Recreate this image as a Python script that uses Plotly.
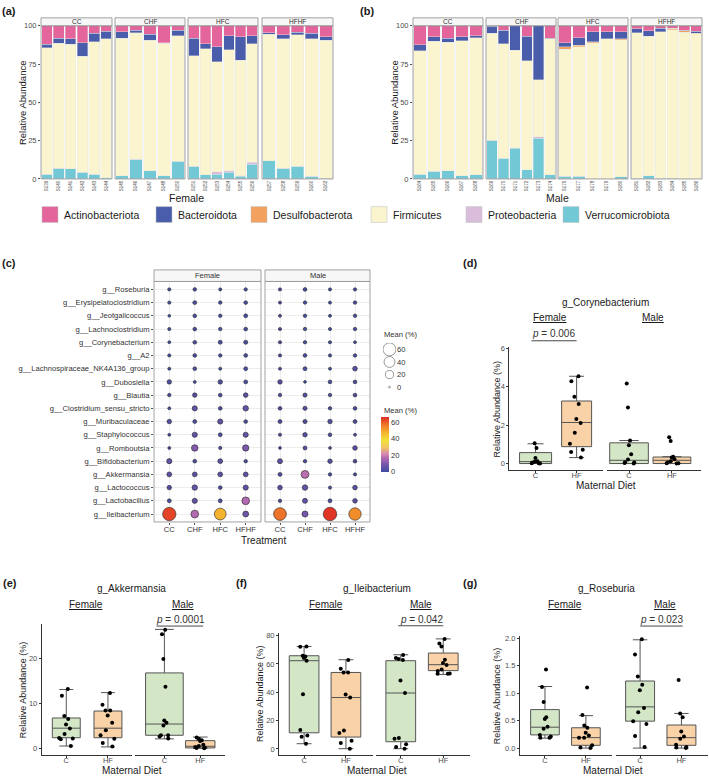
import plotly.graph_objects as go

W, H = 709, 781
FONT = "Liberation Sans, Arial, Helvetica, sans-serif"
TICK = "#4D4D4D"
INK = "#1A1A1A"

# ---------- (a) / (b): phylum relative abundance per sample ----------
groups = ["CC", "CHF", "HFC", "HFHF"]
phyla = ["Actinobacteriota", "Bacteroidota", "Desulfobacterota",
         "Firmicutes", "Proteobacteria", "Verrucomicrobiota"]
phylum_colors = ["#E4659C", "#4A5DAA", "#F2A25E", "#FAF5CE", "#D9BDDB", "#72C9D5"]

fem_ids = ["S139", "S140", "S141", "S142", "S143", "S144",
           "S145", "S146", "S147", "S148", "S150",
           "S151", "S152", "S153", "S154", "S155", "S156",
           "S157", "S158", "S159", "S160", "S162"]
fem_grp = ["CC"] * 6 + ["CHF"] * 5 + ["HFC"] * 6 + ["HFHF"] * 5
fem_actino = [12.0, 8.0, 8.5, 11.0, 5.0, 3.5, 4.0, 3.0, 5.5, 11.0, 3.0,
              8.0, 11.6, 13.8, 6.5, 7.3, 6.5, 4.7, 5.8, 4.1, 5.0, 7.3]
fem_bactero = [2.5, 3.5, 3.5, 9.0, 5.5, 5.0, 4.0, 1.5, 4.0, 0.5, 3.5,
               11.6, 3.5, 9.7, 9.3, 15.1, 5.1, 0.7, 2.8, 1.9, 3.6, 2.2]
fem_desulfo = [0, 0, 0, 0, 0, 0, 0, 0, 0, 0, 0,
               0, 0, 0, 0, 0, 0, 0, 0, 0, 0, 0]
fem_firmi = [82.5, 81.5, 81.5, 75.5, 86.5, 90.8, 90.0, 82.5, 85.2, 86.5, 82.0,
             72.2, 82.1, 71.8, 78.9, 75.4, 77.6, 82.7, 84.3, 85.8, 89.5, 90.1]
fem_proteo = [0, 0, 0, 0, 0, 0, 0, 0, 0, 0, 0,
              0, 0, 1.5, 1.0, 0.5, 1.1, 0, 0, 0, 0, 0]
fem_verruco = [3.0, 7.0, 6.5, 4.5, 3.0, 0.7, 2.0, 13.0, 5.3, 2.0, 11.5,
               8.2, 2.8, 3.2, 4.3, 1.7, 9.7, 11.9, 7.1, 8.2, 1.9, 0.4]

male_ids = ["S164", "S165", "S166", "S167", "S168",
            "S169", "S170", "S171", "S172", "S173", "S174",
            "S176", "S177", "S178", "S179", "S180",
            "S181", "S182", "S183", "S184", "S185", "S186"]
male_grp = ["CC"] * 5 + ["CHF"] * 6 + ["HFC"] * 5 + ["HFHF"] * 6
male_actino = [12.3, 7.3, 8.0, 7.3, 6.5, 0.3, 3.0, 0.0, 7.0, 0.0, 8.0,
               11.0, 7.8, 4.0, 4.0, 4.0, 1.9, 3.4, 1.5, 1.7, 2.8, 3.7]
male_bactero = [4.1, 2.8, 2.8, 2.6, 1.3, 4.5, 8.6, 16.0, 16.0, 35.4, 0.6,
                2.8, 4.9, 6.6, 4.6, 4.6, 2.8, 3.5, 2.4, 0.0, 0.6, 1.1]
male_desulfo = [0, 0, 0, 0, 0, 0, 0, 0, 0, 0, 0,
                1.5, 1.1, 0.6, 0.0, 0.7, 0, 0, 0, 0.9, 0.7, 0.4]
male_firmi = [80.6, 84.9, 84.0, 87.9, 89.4, 70.0, 74.8, 63.5, 71.0, 37.2, 88.6,
              82.8, 84.5, 88.8, 91.2, 89.2, 94.7, 90.9, 95.7, 96.8, 95.7, 94.6]
male_proteo = [0, 0, 0, 0, 0, 0, 0, 0.5, 0, 0.7, 0,
               0, 0, 0, 0, 0, 0, 0, 0, 0, 0, 0]
male_verruco = [3.0, 5.0, 5.2, 2.2, 2.8, 25.2, 13.6, 20.0, 6.0, 26.7, 2.8,
                1.9, 1.7, 0.0, 0.2, 1.5, 0.6, 2.2, 0.4, 0.6, 0.2, 0.2]

# ---------- (c): mean abundance of top genera ----------
genera = ["g__Roseburia", "g__Erysipelatoclostridium", "g__Jeotgalicoccus",
          "g__Lachnoclostridium", "g__Corynebacterium", "g__A2",
          "g__Lachnospiraceae_NK4A136_group", "g__Dubosiella", "g__Blautia",
          "g__Clostridium_sensu_stricto", "g__Muribaculaceae", "g__Staphylococcus",
          "g__Romboutsia", "g__Bifidobacterium", "g__Akkermansia",
          "g__Lactococcus", "g__Lactobacillus", "g__Ileibacterium"]
fem_cc_mean = [1.0, 1.0, 0.5, 1.0, 0.6, 1.0, 0.8, 3.5, 1.4, 0.7, 3.5, 0.7, 0.7, 5.5, 4.5, 3.5, 2.2, 64]
fem_chf_mean = [1.5, 2.2, 1.8, 1.8, 1.8, 1.8, 1.8, 0.7, 3.5, 5.5, 2.2, 5.5, 11, 1.8, 4.5, 6.5, 5.5, 17]
fem_hfc_mean = [0.8, 1.4, 1.4, 1.4, 2.3, 1.4, 0.8, 3.5, 1.8, 1.8, 5.5, 2.2, 1.0, 4.5, 4.5, 1.8, 2.2, 48]
fem_hfhf_mean = [1.2, 1.8, 2.2, 1.8, 2.6, 1.8, 2.2, 2.2, 4.0, 6.5, 1.8, 5.5, 10, 1.4, 4.5, 5.5, 17, 8]
male_cc_mean = [1.0, 0.8, 0.8, 1.0, 1.0, 1.0, 0.8, 3.5, 1.4, 1.8, 2.2, 1.0, 0.5, 5.0, 2.2, 4.0, 1.4, 58]
male_chf_mean = [1.8, 1.4, 1.4, 1.4, 1.3, 1.8, 2.2, 0.5, 2.8, 2.8, 2.8, 3.5, 2.2, 1.4, 18, 6.5, 5.0, 9]
male_hfc_mean = [0.9, 0.8, 0.8, 1.0, 1.0, 1.0, 0.8, 1.8, 1.4, 1.4, 3.5, 1.8, 0.5, 3.5, 1.4, 1.0, 2.2, 66]
male_hfhf_mean = [1.1, 1.4, 1.4, 1.4, 0.6, 1.4, 4.0, 1.8, 1.8, 1.8, 2.2, 0.7, 4.0, 1.8, 1.0, 4.0, 4.0, 54]
size_keys = [60, 40, 20, 0]

# ---------- (d)-(g): per-animal abundance by maternal diet ----------
# box stats are [lower whisker, q1, median, q3, upper whisker]
cory_f_c = [1.06, 0.81, 0.29, 0.12, 0.09, 0.05, 0.02, 0.01, 0.0]
cory_f_hf = [4.55, 4.29, 3.48, 3.10, 2.32, 2.11, 1.60, 1.03, 0.72, 0.60, 0.31]
cory_m_c = [4.17, 2.92, 1.20, 0.96, 0.48, 0.21, 0.07, 0.05, 0.03, 0.0]
cory_m_hf = [1.37, 1.17, 0.36, 0.31, 0.22, 0.12, 0.05, 0.02, 0.01, 0.0]
cory_f_c_box = [0.0, 0.0, 0.10, 0.57, 1.03]
cory_f_hf_box = [0.31, 0.88, 2.14, 3.26, 4.55]
cory_m_c_box = [0.0, 0.0, 0.17, 1.08, 1.20]
cory_m_hf_box = [0.0, 0.0, 0.17, 0.34, 0.36]

akk_f_c = [13.2, 11.7, 7.2, 6.5, 5.3, 4.4, 3.2, 2.3, 2.2, 2.0, 0.5]
akk_f_hf = [12.3, 9.7, 8.4, 8.4, 7.3, 5.7, 4.0, 2.9, 2.1, 1.2, 0.4]
akk_m_c = [26.4, 25.4, 19.9, 13.7, 6.2, 5.7, 5.1, 2.9, 2.9, 2.6, 2.2]
akk_m_hf = [2.4, 2.1, 1.8, 1.6, 0.8, 0.5, 0.3, 0.15, 0.05, 0.0]
akk_f_c_box = [0.5, 2.35, 4.48, 6.75, 13.1]
akk_f_hf_box = [0.3, 2.35, 4.48, 8.3, 12.4]
akk_m_c_box = [2.1, 2.9, 5.4, 16.8, 26.5]
akk_m_hf_box = [0.0, 0.07, 0.44, 1.7, 2.5]

ilei_f_c = [72.1, 72.3, 65.3, 65.8, 64.2, 62.3, 38.6, 13.3, 9.5, 8.6, 3.7]
ilei_f_hf = [62.8, 56.7, 54.0, 54.0, 38.4, 36.3, 13.0, 11.2, 5.8, 4.2, 0.2]
ilei_m_c = [66.3, 64.2, 63.5, 62.8, 48.4, 39.5, 7.7, 7.2, 3.3, 1.4, 0.2]
ilei_m_hf = [77.7, 74.4, 72.3, 63.0, 60.7, 59.3, 56.0, 55.1, 53.3, 53.0, 53.0]
ilei_f_c_box = [3.7, 11.4, 62.3, 65.8, 72.3]
ilei_f_hf_box = [0.2, 8.4, 36.3, 54.0, 63.0]
ilei_m_c_box = [0.2, 5.1, 39.5, 62.3, 66.5]
ilei_m_hf_box = [52.6, 55.3, 59.5, 67.7, 77.7]

rose_f_c = [1.43, 1.11, 0.84, 0.56, 0.53, 0.39, 0.35, 0.24, 0.21, 0.19, 0.19]
rose_f_hf = [1.10, 0.60, 0.41, 0.37, 0.28, 0.23, 0.19, 0.19, 0.05, 0.01, 0.0]
rose_m_c = [1.98, 1.70, 1.30, 1.15, 1.05, 0.73, 0.65, 0.49, 0.44, 0.22, 0.02]
rose_m_hf = [1.24, 0.63, 0.56, 0.30, 0.21, 0.17, 0.06, 0.02, 0.01, 0.0]
rose_f_c_box = [0.18, 0.24, 0.38, 0.70, 1.12]
rose_f_hf_box = [0.0, 0.05, 0.19, 0.37, 0.59]
rose_m_c_box = [0.0, 0.49, 0.75, 1.22, 1.97]
rose_m_hf_box = [0.0, 0.05, 0.19, 0.42, 0.63]

diets = ["C", "HF"]
diet_fill = {"C": "#D3E7C7", "HF": "#F9D2A8"}

fig = go.Figure()
axes, shapes, annotations = {}, [], []
n_axis = {"x": 0, "y": 0}


def new_axis(letter, lo, hi, **kw):
    # lo/hi are pixel positions (left/right or top/bottom)
    n_axis[letter] += 1
    suffix = "" if n_axis[letter] == 1 else str(n_axis[letter])
    dom = [lo / W, hi / W] if letter == "x" else [1 - hi / H, 1 - lo / H]
    ax = dict(zeroline=False, showgrid=False)
    ax.update(kw)
    ax["domain"] = dom
    axes[letter + "axis" + suffix] = ax
    return letter + suffix


def set_anchor(name, anchor):
    axes[name[0] + "axis" + name[1:]]["anchor"] = anchor


def text(s, x, y, size=10, anchor="center", angle=0, color=INK):
    annotations.append(dict(text=s, x=x / W, y=1 - y / H, xref="paper", yref="paper",
                            xanchor=anchor, yanchor="middle", showarrow=False,
                            textangle=angle, font=dict(family=FONT, size=size, color=color)))


def frame(xn, yn):
    shapes.append(dict(type="rect", xref=f"{xn} domain", yref=f"{yn} domain",
                       x0=0, x1=1, y0=0, y1=1, layer="above",
                       line=dict(color="#8C8C8C", width=0.8)))


def strip(xn, top, bottom, label, size):
    shapes.append(dict(type="rect", xref=f"{xn} domain", yref="paper", x0=0, x1=1,
                       y0=1 - bottom / H, y1=1 - top / H, fillcolor="#F7F7F7",
                       line=dict(color="#8C8C8C", width=0.8)))
    annotations.append(dict(text=label, xref=f"{xn} domain", yref="paper", x=0.5,
                            y=1 - (top + bottom) / 2 / H, xanchor="center", yanchor="middle",
                            showarrow=False, font=dict(family=FONT, size=size, color="#333")))


# ---------- bar panels ----------
def bar_panel(ids, grp, series, facets):
    yn = new_axis("y", 22, 177, range=[0, 100], tickvals=[0, 25, 50, 75, 100],
                  ticks="outside", ticklen=2, tickcolor="#555",
                  tickfont=dict(family=FONT, size=7.5, color=TICK))
    first = None
    for g, (x0, x1) in zip(groups, facets):
        idx = [i for i, gg in enumerate(grp) if gg == g]
        cats = [ids[i] for i in idx]
        xn = new_axis("x", x0, x1, type="category", categoryarray=cats,
                      range=[-0.5, len(cats) - 0.5], tickangle=-90, ticks="",
                      tickfont=dict(family=FONT, size=4.5, color=TICK), anchor=yn)
        first = first or xn
        # stacked bottom to top: Verrucomicrobiota ... Actinobacteriota
        for name, color in list(zip(phyla, phylum_colors))[::-1]:
            vals = series[name]
            fig.add_trace(go.Bar(x=cats, y=[vals[i] for i in idx], xaxis=xn, yaxis=yn,
                                 width=0.9, hoverinfo="skip", showlegend=False,
                                 marker=dict(color=color, line=dict(color="#E6E6E6", width=0.4))))
        frame(xn, yn)
        strip(xn, 14, 22, g, 6.5)
    set_anchor(yn, first)


bar_panel(fem_ids, fem_grp,
          dict(zip(phyla, [fem_actino, fem_bactero, fem_desulfo, fem_firmi, fem_proteo, fem_verruco])),
          [(41, 112), (115, 185), (188, 258), (262, 333)])
bar_panel(male_ids, male_grp,
          dict(zip(phyla, [male_actino, male_bactero, male_desulfo, male_firmi, male_proteo, male_verruco])),
          [(413, 483), (486, 556), (558, 628), (631, 702)])

text("<b>(a)</b>", 9, 7, size=11)
text("<b>(b)</b>", 367, 7, size=11)
text("Relative Abundance", 22.7, 99.5, size=9.5, angle=-90)
text("Relative Abundance", 394.3, 99.5, size=9.5, angle=-90)
text("Female", 187, 196, size=10.5)
text("Male", 557.5, 196, size=10.5)

# legend row
for xl, name, color in zip([42, 156, 251, 371, 466, 563], phyla, phylum_colors):
    shapes.append(dict(type="rect", xref="paper", yref="paper", x0=xl / W, x1=(xl + 16) / W,
                       y0=1 - 221 / H, y1=1 - 205 / H, fillcolor=color,
                       line=dict(color="#BDBDBD", width=0.5)))
    text(name, xl + 20, 213, size=10.5, anchor="left")

# ---------- (c) dot plot ----------
def dot_size(v):
    return 1.8 + 11.8 * (v / 67) ** 0.5


yc = new_axis("y", 280.7, 524, type="category", categoryarray=genera[::-1],
              range=[-0.6, 17.6], showgrid=True, gridcolor="#EDEDED", gridwidth=0.6,
              ticks="outside", ticklen=2, tickcolor="#555",
              tickfont=dict(family=FONT, size=7.6, color="#333"))
first_c = None
for sex, (x0, x1), cols in [("Female", (154, 261), [fem_cc_mean, fem_chf_mean, fem_hfc_mean, fem_hfhf_mean]),
                            ("Male", (265, 370), [male_cc_mean, male_chf_mean, male_hfc_mean, male_hfhf_mean])]:
    xn = new_axis("x", x0, x1, type="category", categoryarray=groups, range=[-0.6, 3.6],
                  showgrid=True, gridcolor="#EDEDED", gridwidth=0.6, ticks="outside",
                  ticklen=2, tickcolor="#555", anchor=yc, ticklabelstandoff=-2,
                  tickfont=dict(family=FONT, size=7.6, color="#333"))
    first_c = first_c or xn
    xs, ys, vs = [], [], []
    for g, col in zip(groups, cols):
        xs += [g] * len(genera)
        ys += genera
        vs += col
    fig.add_trace(go.Scatter(x=xs, y=ys, mode="markers", xaxis=xn, yaxis=yc,
                             hoverinfo="skip", showlegend=False,
                             marker=dict(size=[dot_size(v) for v in vs], color=vs,
                                         coloraxis="coloraxis", opacity=1,
                                         line=dict(color="#262626", width=0.6))))
    frame(xn, yc)
    strip(xn, 269, 280.7, sex, 7.5)
set_anchor(yc, first_c)

text("<b>(c)</b>", 9, 262, size=11)
text("Treatment", 263, 542.5, size=10)

# size legend
ys_ = new_axis("y", 343, 394, type="category", categoryarray=[str(k) for k in size_keys[::-1]],
               range=[-0.5, 3.5], side="right", ticks="", showline=False,
               tickfont=dict(family=FONT, size=7.6, color="#333"))
xs_ = new_axis("x", 383, 396, range=[-1, 1], visible=False, anchor=ys_)
set_anchor(ys_, xs_)
fig.add_trace(go.Scatter(x=[0] * len(size_keys), y=[str(k) for k in size_keys], mode="markers",
                         xaxis=xs_, yaxis=ys_, hoverinfo="skip", showlegend=False,
                         marker=dict(size=[dot_size(k) for k in size_keys], color="white",
                                     line=dict(color="#333", width=0.7))))
text("Mean (%)", 381.7, 334, size=7.6, anchor="left", color="#333")
text("Mean (%)", 381.7, 411.7, size=7.6, anchor="left", color="#333")

# ---------- (d)-(g) box panels ----------
box_panels = [
    dict(tag="(d)", tag_xy=(470, 262), title="g_Corynebacterium", title_xy=(605.7, 301.7),
         pts=[cory_f_c, cory_f_hf, cory_m_c, cory_m_hf],
         stats=[cory_f_c_box, cory_f_hf_box, cory_m_c_box, cory_m_hf_box],
         fem_px=(509.3, 603.3), male_px=(606.7, 700.7), y_px=(347.5, 471.7),
         yrange=(-0.35, 6.05), yticks=[0, 2, 4, 6], ticktext=None,
         fem_range=(-0.64, 1.65), male_range=(-0.52, 1.67), widths=[0.78, 0.73, 0.9, 0.88],
         sex_y=316.7, sex_x=(550, 653.3), p_side=0, p_text="<i>p</i> = 0.006",
         p_xy=(553, 333.3), p_line_y=340.7, p_line_x=(-0.1, 1.0),
         ytitle_x=496.7, xtitle_xy=(605.7, 487.5)),
    dict(tag="(e)", tag_xy=(10, 586), title="g_Akkermansia", title_xy=(131.7, 591.7),
         pts=[akk_f_c, akk_f_hf, akk_m_c, akk_m_hf],
         stats=[akk_f_c_box, akk_f_hf_box, akk_m_c_box, akk_m_hf_box],
         fem_px=(41.7, 131.7), male_px=(135, 225), y_px=(627.7, 759.3),
         yrange=(-1.4, 27.6), yticks=[0, 10, 20], ticktext=None,
         fem_range=(-0.59, 1.57), male_range=(-0.82, 1.69), widths=[0.67, 0.67, 1.05, 0.82],
         sex_y=607.3, sex_x=(86, 183.3), p_side=1, p_text="<i>p</i> = 0.0001",
         p_xy=(180, 622.7), p_line_y=629.3, p_line_x=(-0.22, 1.08),
         ytitle_x=22.7, xtitle_xy=(131.7, 775)),
    dict(tag="(f)", tag_xy=(241.7, 586), title="g_Ileibacterium", title_xy=(376.7, 591.7),
         pts=[ilei_f_c, ilei_f_hf, ilei_m_c, ilei_m_hf],
         stats=[ilei_f_c_box, ilei_f_hf_box, ilei_m_c_box, ilei_m_hf_box],
         fem_px=(279, 372.7), male_px=(375.7, 470), y_px=(636.7, 759.3),
         yrange=(-3.95, 81.6), yticks=[0, 20, 40, 60, 80], ticktext=None,
         fem_range=(-0.6, 1.64), male_range=(-0.59, 1.63), widths=[0.71, 0.71, 0.7, 0.7],
         sex_y=607.3, sex_x=(326, 420.7), p_side=1, p_text="<i>p</i> = 0.042",
         p_xy=(421.7, 622.7), p_line_y=629, p_line_x=(-0.06, 1.0),
         ytitle_x=260, xtitle_xy=(376.7, 775)),
    dict(tag="(g)", tag_xy=(470, 586), title="g_Roseburia", title_xy=(606.7, 591.7),
         pts=[rose_f_c, rose_f_hf, rose_m_c, rose_m_hf],
         stats=[rose_f_c_box, rose_f_hf_box, rose_m_c_box, rose_m_hf_box],
         fem_px=(520, 611.7), male_px=(615.7, 708.3), y_px=(639.3, 760),
         yrange=(-0.13, 2.04), yticks=[0, 0.5, 1, 1.5, 2], ticktext=["0.0", "0.5", "1.0", "1.5", "2.0"],
         fem_range=(-0.61, 1.63), male_range=(-0.59, 1.65), widths=[0.7, 0.7, 0.7, 0.7],
         sex_y=607.3, sex_x=(565, 664.7), p_side=1, p_text="<i>p</i> = 0.023",
         p_xy=(661, 622.7), p_line_y=629.3, p_line_x=(0.0, 1.03),
         ytitle_x=496.7, xtitle_xy=(613.3, 775)),
]

AX = dict(showline=True, linecolor="#333", linewidth=0.9, ticks="outside", ticklen=2,
          tickcolor="#333", tickfont=dict(family=FONT, size=7.5, color=TICK))

for p in box_panels:
    yn = new_axis("y", p["y_px"][0], p["y_px"][1], range=list(p["yrange"]),
                  tickvals=p["yticks"], ticktext=p["ticktext"], **AX)
    xnames = []
    for side, (px_rng, rng) in enumerate([(p["fem_px"], p["fem_range"]),
                                          (p["male_px"], p["male_range"])]):
        xn = new_axis("x", px_rng[0], px_rng[1], type="category", categoryarray=diets,
                      range=list(rng), anchor=yn, ticklabelstandoff=-4, **AX)
        xnames.append(xn)
        for j, d in enumerate(diets):
            k = side * 2 + j
            lo, q1, med, q3, hi = p["stats"][k]
            fig.add_trace(go.Box(x=[d], q1=[q1], median=[med], q3=[q3], lowerfence=[lo],
                                 upperfence=[hi], xaxis=xn, yaxis=yn, width=p["widths"][k],
                                 fillcolor=diet_fill[d], line=dict(color="#555555", width=1),
                                 boxpoints=False, hoverinfo="skip", showlegend=False))
            fig.add_trace(go.Box(x=[d] * len(p["pts"][k]), y=p["pts"][k], xaxis=xn, yaxis=yn,
                                 width=0.42, boxpoints="all", jitter=1, pointpos=0,
                                 fillcolor="rgba(0,0,0,0)", line=dict(color="rgba(0,0,0,0)", width=0),
                                 marker=dict(color="black", size=4), hoverinfo="skip",
                                 showlegend=False))
    set_anchor(yn, xnames[0])
    shapes.append(dict(type="line", xref=xnames[p["p_side"]], yref="paper",
                       x0=p["p_line_x"][0], x1=p["p_line_x"][1],
                       y0=1 - p["p_line_y"] / H, y1=1 - p["p_line_y"] / H,
                       line=dict(color="#333", width=0.9)))
    text(p["p_text"], *p["p_xy"], size=10, color="#333")
    text(f"<b>{p['tag']}</b>", *p["tag_xy"], size=11)
    text(p["title"], *p["title_xy"], size=10)
    text("<u>Female</u>", p["sex_x"][0], p["sex_y"], size=10)
    text("<u>Male</u>", p["sex_x"][1], p["sex_y"], size=10)
    text("Relative Abundance (%)", p["ytitle_x"], sum(p["y_px"]) / 2, size=9, angle=-90)
    text("Maternal Diet", *p["xtitle_xy"], size=10)

fig.update_layout(
    width=W, height=H, autosize=False, margin=dict(l=0, r=0, t=0, b=0),
    paper_bgcolor="white", plot_bgcolor="white", barmode="stack", boxmode="overlay",
    showlegend=False, font=dict(family=FONT, color=INK),
    shapes=shapes, annotations=annotations,
    coloraxis=dict(
        cmin=0, cmax=67,
        colorscale=[[0.0, "#3F4BA0"], [0.12, "#6E55AA"], [0.25, "#B068B0"],
                    [0.33, "#D98AAE"], [0.45, "#F0C860"], [0.58, "#F2E03A"],
                    [0.72, "#F5B22E"], [0.85, "#EF7A2A"], [1.0, "#DE2D26"]],
        colorbar=dict(x=381 / W, xanchor="left", y=1 - 473 / H, yanchor="bottom",
                      len=55, lenmode="pixels", thickness=8, thicknessmode="pixels",
                      xpad=0, ypad=0, outlinewidth=0, ticks="", tickvals=[0, 20, 40, 60],
                      tickfont=dict(family=FONT, size=7.6, color="#333"), title=dict(text="")),
    ),
    **axes,
)

# the page body has a default 8px margin; drop it so the figure sits at (0, 0)
fig.write_html("out.html", config={"displayModeBar": False},
               post_script="document.body.style.margin='0';")
